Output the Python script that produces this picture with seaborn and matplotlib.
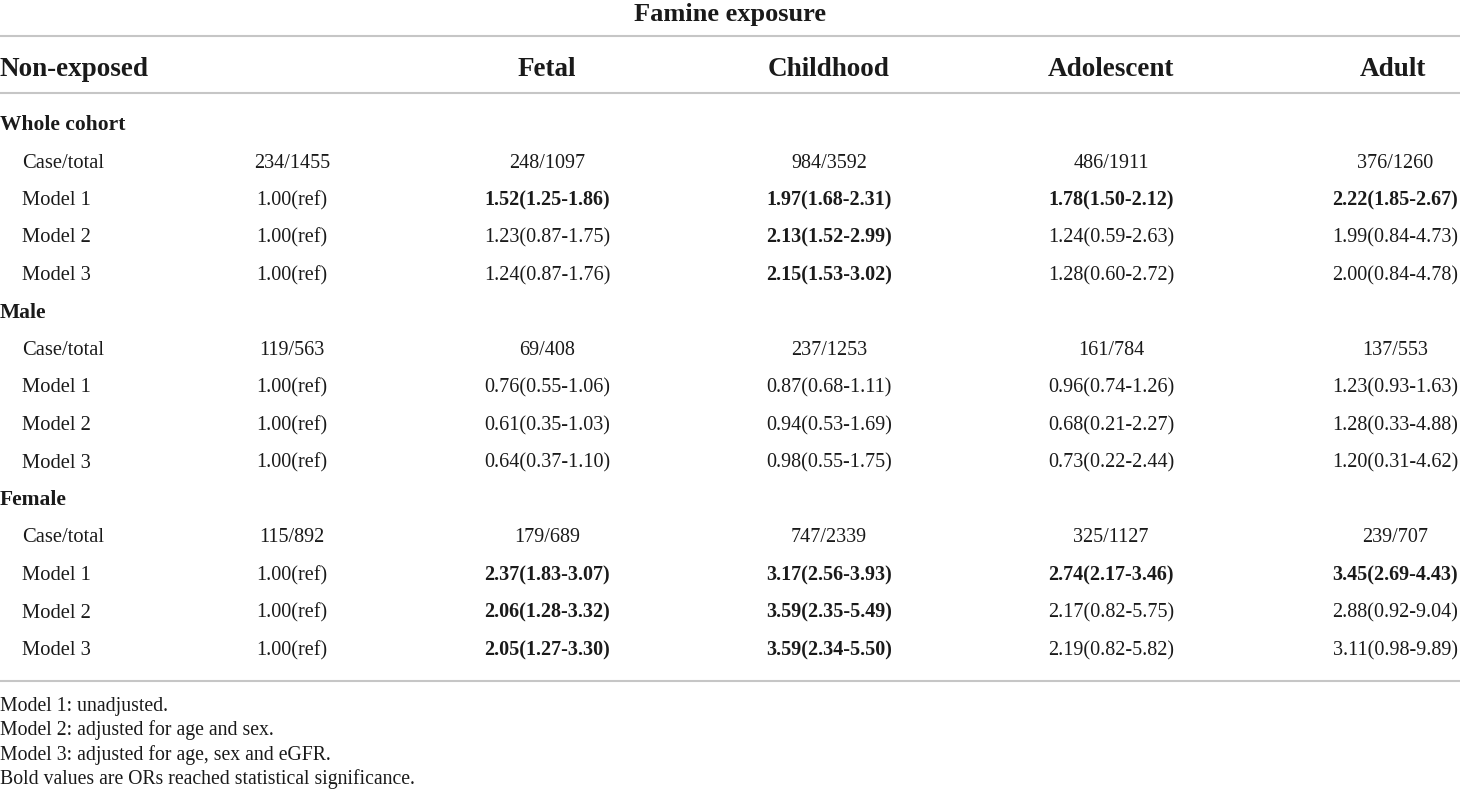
import matplotlib
matplotlib.use("Agg")
import matplotlib.pyplot as plt
import seaborn as sns

# Данные таблицы
title = "Famine exposure"
columns = ["Non-exposed", "Fetal", "Childhood", "Adolescent", "Adult"]
groups = ["Whole cohort", "Male", "Female"]
row_labels = ["Case/total", "Model 1", "Model 2", "Model 3"]

whole_cohort = [
    ["234/1455", "248/1097", "984/3592", "486/1911", "376/1260"],
    ["1.00(ref)", "1.52(1.25-1.86)", "1.97(1.68-2.31)", "1.78(1.50-2.12)", "2.22(1.85-2.67)"],
    ["1.00(ref)", "1.23(0.87-1.75)", "2.13(1.52-2.99)", "1.24(0.59-2.63)", "1.99(0.84-4.73)"],
    ["1.00(ref)", "1.24(0.87-1.76)", "2.15(1.53-3.02)", "1.28(0.60-2.72)", "2.00(0.84-4.78)"],
]
male = [
    ["119/563", "69/408", "237/1253", "161/784", "137/553"],
    ["1.00(ref)", "0.76(0.55-1.06)", "0.87(0.68-1.11)", "0.96(0.74-1.26)", "1.23(0.93-1.63)"],
    ["1.00(ref)", "0.61(0.35-1.03)", "0.94(0.53-1.69)", "0.68(0.21-2.27)", "1.28(0.33-4.88)"],
    ["1.00(ref)", "0.64(0.37-1.10)", "0.98(0.55-1.75)", "0.73(0.22-2.44)", "1.20(0.31-4.62)"],
]
female = [
    ["115/892", "179/689", "747/2339", "325/1127", "239/707"],
    ["1.00(ref)", "2.37(1.83-3.07)", "3.17(2.56-3.93)", "2.74(2.17-3.46)", "3.45(2.69-4.43)"],
    ["1.00(ref)", "2.06(1.28-3.32)", "3.59(2.35-5.49)", "2.17(0.82-5.75)", "2.88(0.92-9.04)"],
    ["1.00(ref)", "2.05(1.27-3.30)", "3.59(2.34-5.50)", "2.19(0.82-5.82)", "3.11(0.98-9.89)"],
]
# 1 = жирный (значимый OR)
whole_bold = [
    [0, 0, 0, 0, 0],
    [0, 1, 1, 1, 1],
    [0, 0, 1, 0, 0],
    [0, 0, 1, 0, 0],
]
male_bold = [[0] * 5 for _ in range(4)]
female_bold = [
    [0, 0, 0, 0, 0],
    [0, 1, 1, 1, 1],
    [0, 1, 1, 0, 0],
    [0, 1, 1, 0, 0],
]
footnotes = [
    "Model 1: unadjusted.",
    "Model 2: adjusted for age and sex.",
    "Model 3: adjusted for age, sex and eGFR.",
    "Bold values are ORs reached statistical significance.",
]

# Оформление
sns.set_theme(style="white")
plt.rcParams["font.family"] = ["Liberation Serif", "DejaVu Serif"]
txt_color = "#1a1a1a"
line_color = "#c6c6c6"

fig = plt.figure(figsize=(14.6, 7.92), dpi=100)
ax = fig.add_axes([0, 0, 1, 1])
ax.set_xlim(0, 1460)
ax.set_ylim(792, 0)
ax.axis("off")

col_x = [292, 547, 829, 1111, 1395]
head_x = [0, 547, 829, 1111, 1393]

# Заголовок и линии (выравнивание по базовой линии)
ax.text(730, 13 + 8, title, ha="center", va="baseline", fontsize=19,
        fontweight="bold", color=txt_color)
for y in [36, 93, 681]:
    ax.axhline(y, color=line_color, lw=1.5)

for i, name in enumerate(columns):
    ax.text(head_x[i], 68 + 8, name, ha="left" if i == 0 else "center", va="baseline",
            fontsize=19.5, fontweight="bold", color=txt_color)

# Строки
y = 124
step = 37.5
for g, data, bold in zip(groups, [whole_cohort, male, female], [whole_bold, male_bold, female_bold]):
    ax.text(0, y + 6, g, ha="left", va="baseline", fontsize=15.5, fontweight="bold", color=txt_color)
    y += step
    for r, lab in enumerate(row_labels):
        ax.text(22, y + 6, lab, ha="left", va="baseline", fontsize=14.8, color=txt_color)
        for c in range(5):
            ax.text(col_x[c], y + 6, data[r][c], ha="center", va="baseline", fontsize=14.5,
                    fontweight="bold" if bold[r][c] else "normal", color=txt_color)
        y += step

# Примечания
for k, note in enumerate(footnotes):
    ax.text(0, 706 + 5 + k * 24.3, note, ha="left", va="baseline", fontsize=14.2, color=txt_color)

fig.savefig("out.png", dpi=100, facecolor="white")
